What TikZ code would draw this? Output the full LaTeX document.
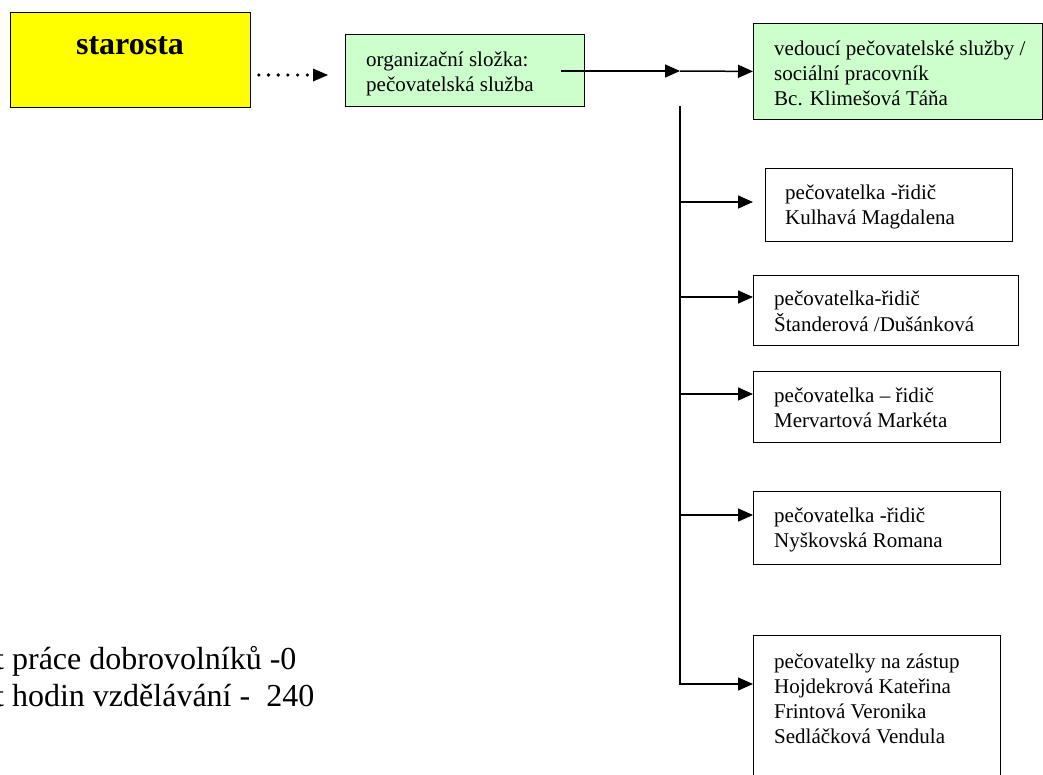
\documentclass[tikz,border=0pt]{standalone}
\usepackage{fontspec}
\setmainfont{Liberation Serif}
\usetikzlibrary{arrows.meta,calc}
\definecolor{boxgreen}{HTML}{CCFFCC}
\definecolor{boxyellow}{HTML}{FFFF00}
\begin{document}
\begin{tikzpicture}[x=1pt,y=-1pt,
  box/.style={draw, line width=0.8pt, anchor=north west, inner sep=0pt},
  txt/.style={anchor=north west, inner sep=0pt, align=left, font=\fontsize{21}{25}\selectfont},
  bigtxt/.style={anchor=north west, inner sep=0pt, align=left, font=\fontsize{32}{37}\selectfont},
  conn/.style={line width=1.5pt, -{Triangle[length=15pt,width=13pt]}},
  dotconn/.style={line width=3.6pt, line cap=round, dash pattern=on 0pt off 9.7pt,
    shorten <=8pt, shorten >=17pt, -{Triangle[length=15pt,width=13pt,line width=0pt]}}]
\useasboundingbox (0,0) rectangle (1043,774);
\clip (0,0) rectangle (1043,774);

% boxes
\node[box, fill=boxyellow, minimum width=240pt, minimum height=95pt] (st) at (10,12) {};
\node[box, fill=boxgreen, minimum width=239pt, minimum height=72pt] (org) at (345,34) {};
\node[box, fill=boxgreen, minimum width=289pt, minimum height=96pt] (ved) at (753,23) {};
\node[box, minimum width=247pt, minimum height=73pt] (kul) at (765,168) {};
\node[box, minimum width=265pt, minimum height=70pt] (stan) at (753,275) {};
\node[box, minimum width=247pt, minimum height=71pt] (merv) at (753,371) {};
\node[box, minimum width=247pt, minimum height=73pt] (nys) at (753,491) {};
\node[box, minimum width=247pt, minimum height=160pt] (zas) at (753,635) {};

% texts
\node[anchor=base, inner sep=0pt, font=\fontsize{32}{37}\selectfont\bfseries] (stt) at (130,54) {starosta};
\node[txt] (orgt) at (366,48.5) {\strut organizační složka:\\pečovatelská služba};
\node[txt] (vedt) at (774,37.5) {\strut vedoucí pečovatelské služby /\\sociální pracovník\\Bc. Klimešová Táňa};
\node[txt] (kult) at (785,181.5) {\strut pečovatelka -řidič\\Kulhavá Magdalena};
\node[txt] (stant) at (774,287.5) {\strut pečovatelka-řidič\\Štanderová /Dušánková};
\node[txt] (mervt) at (774,384.5) {\strut pečovatelka – řidič\\Mervartová Markéta};
\node[txt] (nyst) at (774,504.5) {\strut pečovatelka -řidič\\Nyškovská Romana};
\node[txt] (zast) at (774,650.5) {\strut pečovatelky na zástup\\Hojdekrová Kateřina\\Frintová Veronika\\Sedláčková Vendula};
\node[bigtxt] (note) at (-5,643.1) {\strut t práce dobrovolníků -0\\t hodin vzdělávání -\ \ 240};

% connector points
\path (st.north east) ++(0,63) coordinate (sto);
\path (org.north west) ++(0,41) coordinate (orgin);
\coordinate (os) at (561,71);
\coordinate (j) at (680,71);
\coordinate (vt) at (680,106);
\path (kul.north west) ++(-12,34) coordinate (kulin);
\path (stan.north west) ++(0,22) coordinate (stanin);
\path (merv.north west) ++(0,23) coordinate (mervin);
\path (nys.north west) ++(0,24) coordinate (nysin);
\path (zas.north west) ++(0,49) coordinate (zasin);

% connectors
\draw[dotconn] (sto) -- (orgin);
\draw[conn] (os) -- (j);
\draw[conn] (j) -- (ved.west);
\draw[conn] (vt) |- (zasin);
\draw[conn] (vt |- kulin) -- (kulin);
\draw[conn] (vt |- stanin) -- (stanin);
\draw[conn] (vt |- mervin) -- (mervin);
\draw[conn] (vt |- nysin) -- (nysin);
\end{tikzpicture}
\end{document}
